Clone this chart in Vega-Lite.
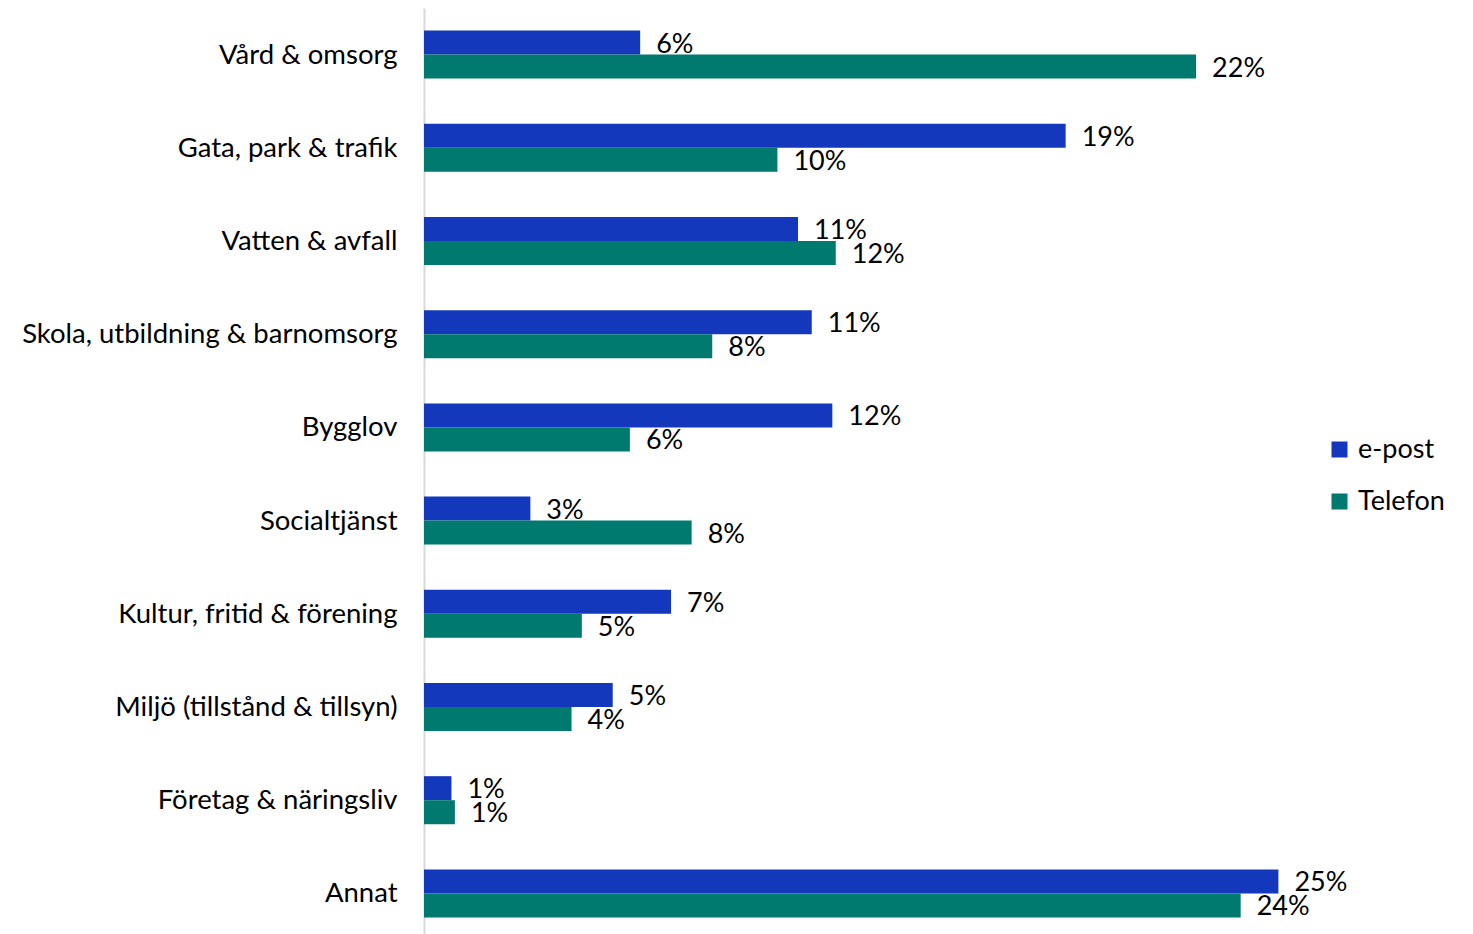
{
  "$schema": "https://vega.github.io/schema/vega-lite/v6.json",
  "width": 875,
  "height": 932,
  "autosize": {"type": "none"},
  "padding": {"left": 424, "top": 8, "right": 174, "bottom": 0},
  "background": "white",
  "config": {"view": {"stroke": null}, "font": "Lato"},
  "data": {"values": [
    {"cat": "Vård & omsorg", "series": "e-post", "value": 0.063, "label": "6%"},
    {"cat": "Vård & omsorg", "series": "Telefon", "value": 0.225, "label": "22%"},
    {"cat": "Gata, park & trafik", "series": "e-post", "value": 0.187, "label": "19%"},
    {"cat": "Gata, park & trafik", "series": "Telefon", "value": 0.103, "label": "10%"},
    {"cat": "Vatten & avfall", "series": "e-post", "value": 0.109, "label": "11%"},
    {"cat": "Vatten & avfall", "series": "Telefon", "value": 0.120, "label": "12%"},
    {"cat": "Skola, utbildning & barnomsorg", "series": "e-post", "value": 0.113, "label": "11%"},
    {"cat": "Skola, utbildning & barnomsorg", "series": "Telefon", "value": 0.084, "label": "8%"},
    {"cat": "Bygglov", "series": "e-post", "value": 0.119, "label": "12%"},
    {"cat": "Bygglov", "series": "Telefon", "value": 0.060, "label": "6%"},
    {"cat": "Socialtjänst", "series": "e-post", "value": 0.031, "label": "3%"},
    {"cat": "Socialtjänst", "series": "Telefon", "value": 0.078, "label": "8%"},
    {"cat": "Kultur, fritid & förening", "series": "e-post", "value": 0.072, "label": "7%"},
    {"cat": "Kultur, fritid & förening", "series": "Telefon", "value": 0.046, "label": "5%"},
    {"cat": "Miljö (tillstånd & tillsyn)", "series": "e-post", "value": 0.055, "label": "5%"},
    {"cat": "Miljö (tillstånd & tillsyn)", "series": "Telefon", "value": 0.043, "label": "4%"},
    {"cat": "Företag & näringsliv", "series": "e-post", "value": 0.008, "label": "1%"},
    {"cat": "Företag & näringsliv", "series": "Telefon", "value": 0.009, "label": "1%"},
    {"cat": "Annat", "series": "e-post", "value": 0.249, "label": "25%"},
    {"cat": "Annat", "series": "Telefon", "value": 0.238, "label": "24%"}
  ]},
  "encoding": {
    "y": {
      "field": "cat", "type": "nominal", "sort": null, "title": null,
      "scale": {"paddingInner": 0, "paddingOuter": 0},
      "axis": {"ticks": false, "labelFontSize": 27.5, "labelColor": "#000000", "labelPadding": 27, "labelOffset": 1, "domainColor": "#d9d9d9", "domainWidth": 2, "labelLimit": 500, "labelFont": "Lato"}
    },
    "yOffset": {"field": "series", "type": "nominal", "sort": ["e-post", "Telefon"], "scale": {"paddingInner": 0, "paddingOuter": 0.94}},
    "x": {"field": "value", "type": "quantitative", "scale": {"domain": [0, 0.255]}, "axis": null}
  },
  "layer": [
    {
      "mark": {"type": "bar"},
      "encoding": {
        "color": {
          "field": "series", "type": "nominal", "sort": ["e-post", "Telefon"],
          "scale": {"domain": ["e-post", "Telefon"], "range": ["#1438BC", "#00796E"]},
          "legend": {
            "title": null, "orient": "none", "legendX": 902, "legendY": 428,
            "symbolType": "square", "symbolSize": 256, "symbolStrokeWidth": 0,
            "labelFontSize": 27, "labelColor": "#000000", "labelFont": "Lato", "rowPadding": 24, "labelOffset": 5
          }
        }
      }
    },
    {
      "mark": {"type": "text", "align": "left", "baseline": "middle", "dx": 16, "dy": 2, "fontSize": 27, "color": "#000000", "font": "Lato"},
      "encoding": {"text": {"field": "label"}}
    }
  ]
}
